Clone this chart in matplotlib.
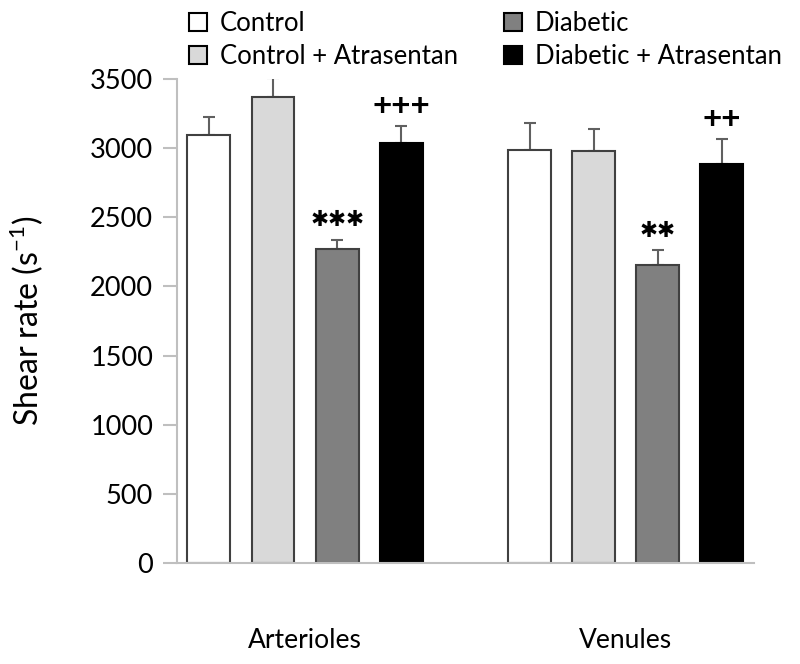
import matplotlib
matplotlib.use("Agg")
import matplotlib.pyplot as plt
import numpy as np
from matplotlib.patches import Patch

plt.rcParams['font.family'] = ['Lato', 'DejaVu Sans']

# データ
groups = ["Arterioles", "Venules"]
series = ["Control", "Control + Atrasentan", "Diabetic", "Diabetic + Atrasentan"]
arterioles = [3096, 3367, 2268, 3034]
arterioles_err = [128, 138, 70, 125]
venules = [2988, 2976, 2152, 2889]
venules_err = [196, 159, 109, 176]
marks_art = ["", "", "\u2731\u2731\u2731", "+++"]
marks_ven = ["", "", "\u2731\u2731", "++"]

colors = ["#ffffff", "#d9d9d9", "#808080", "#000000"]

fig = plt.figure(figsize=(8, 6.64), dpi=100)
ax = fig.add_axes([0.221, 0.152, 0.7215, 0.729])

values = [arterioles, venules]
errs = [arterioles_err, venules_err]
marks = [marks_art, marks_ven]

for g in range(len(groups)):
    x = np.arange(len(series)) + g * (len(series) + 1)
    for i in range(len(series)):
        ax.bar(x[i], values[g][i], width=0.67, color=colors[i],
               edgecolor="#404040" if i < 3 else "#000000", linewidth=1.5, zorder=2)
    ax.errorbar(x, values[g], yerr=[np.zeros(len(x)), errs[g]], fmt="none",
                ecolor="#606060", elinewidth=1.5, capsize=4, capthick=1.5, zorder=1)
    for i, m in enumerate(marks[g]):
        if m.startswith("+"):
            ax.annotate(m, (x[i], values[g][i] + errs[g][i]), xytext=(0, 14),
                        textcoords="offset points", ha="center", va="center",
                        fontsize=24, fontweight="bold")
        elif m:
            ax.annotate(m, (x[i], values[g][i] + errs[g][i]), xytext=(0, 14),
                        textcoords="offset points", ha="center", va="center",
                        fontsize=15.5, family=["DejaVu Sans"])

ax.set_xlim(-0.5, 8.5)
ax.set_ylim(0, 3500)
ax.set_yticks(np.arange(0, 3501, 500))
ax.set_xticks([1.5, 6.5])
ax.set_xticklabels(groups)
ax.tick_params(axis="x", length=0, pad=47, labelsize=19)
ax.tick_params(axis="y", length=10, width=1.5, color="#bfbfbf", pad=7, labelsize=19.5)
for s in ["top", "right"]:
    ax.spines[s].set_visible(False)
for s in ["left", "bottom"]:
    ax.spines[s].set_color("#bfbfbf")
    ax.spines[s].set_linewidth(1.5)
ax.set_ylabel("Shear rate (s$^{\\mathregular{-1}}$)", fontsize=23, labelpad=32)

handles = [Patch(facecolor=c, edgecolor="#000000", linewidth=1.5) for c in colors]
fig.legend(handles, series, ncol=2,
           loc="upper left", bbox_to_anchor=(0.207, 1.018), frameon=False,
           fontsize=18.5, handlelength=0.7, handleheight=0.7, handletextpad=0.5,
           columnspacing=1.8, labelspacing=0.3)

fig.savefig("out.png", dpi=100)
